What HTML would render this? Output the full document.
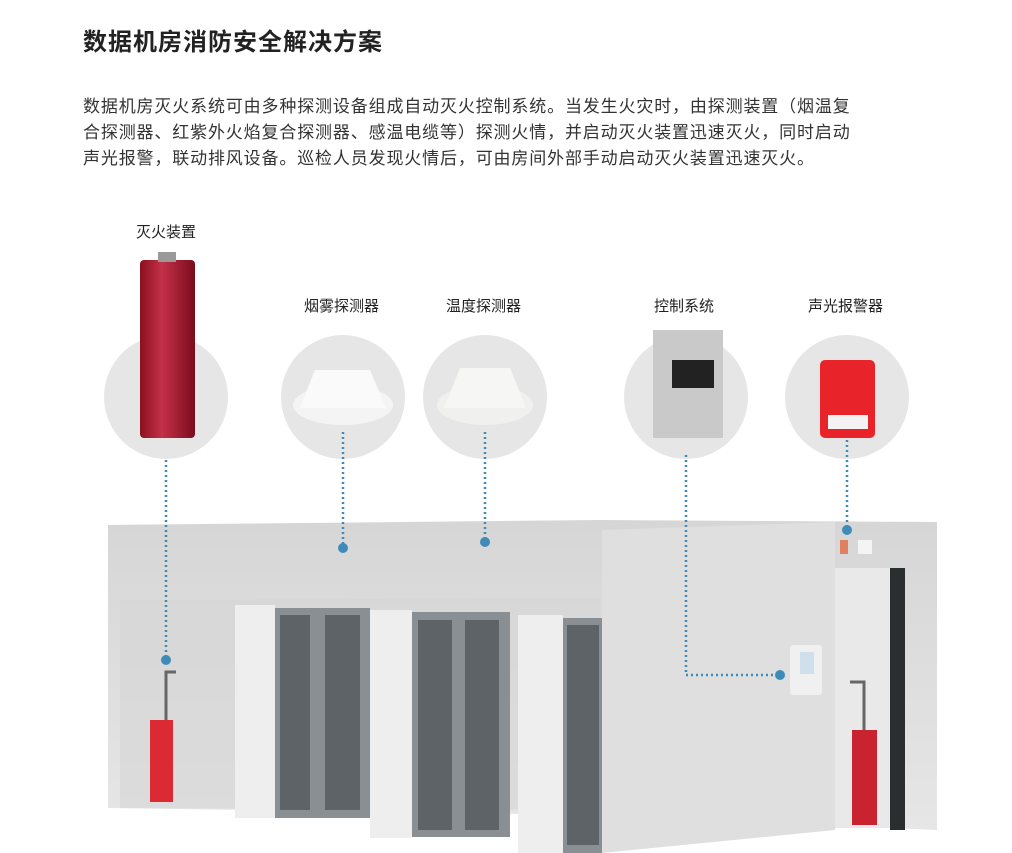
<!DOCTYPE html>
<html><head><meta charset="utf-8"><style>
body{margin:0;width:1012px;height:853px;background:#fff;overflow:hidden;position:relative;font-family:"Liberation Sans","Noto Sans CJK SC",sans-serif;color:#333}
.t{position:absolute;left:83px;top:22px;font-size:24px;letter-spacing:1px;font-weight:bold;color:#222}
.p{position:absolute;left:83px;top:94px;font-size:17px;letter-spacing:0.85px;line-height:26px;width:800px;color:#333;white-space:nowrap}
.l{position:absolute;font-size:15px;color:#222}
</style></head><body>
<div class="t">数据机房消防安全解决方案</div>
<div class="p">数据机房灭火系统可由多种探测设备组成自动灭火控制系统。当发生火灾时，由探测装置（烟温复<br>合探测器、红紫外火焰复合探测器、感温电缆等）探测火情，并启动灭火装置迅速灭火，同时启动<br>声光报警，联动排风设备。巡检人员发现火情后，可由房间外部手动启动灭火装置迅速灭火。</div>
<div class="l" style="left:136px;top:221px">灭火装置</div>
<div class="l" style="left:304px;top:295px">烟雾探测器</div>
<div class="l" style="left:446px;top:295px">温度探测器</div>
<div class="l" style="left:654px;top:295px">控制系统</div>
<div class="l" style="left:808px;top:295px">声光报警器</div>
<svg width="1012" height="853" style="position:absolute;left:0;top:0">
<defs>
<linearGradient id="w" x1="0" y1="0" x2="0" y2="1"><stop offset="0" stop-color="#d6d6d6"/><stop offset="1" stop-color="#e6e6e6"/></linearGradient>
<linearGradient id="r" x1="0" x2="1"><stop offset="0" stop-color="#8a1020"/><stop offset=".4" stop-color="#c43048"/><stop offset="1" stop-color="#7a0c1c"/></linearGradient>
</defs>
<g fill="#e6e6e6">
<circle cx="166" cy="397" r="62"/><circle cx="343" cy="397" r="62"/><circle cx="485" cy="397" r="62"/><circle cx="686" cy="397" r="62"/><circle cx="847" cy="397" r="62"/>
</g>
<rect x="140" y="260" width="55" height="178" rx="4" fill="url(#r)"/>
<rect x="158" y="252" width="18" height="10" fill="#999"/>
<ellipse cx="343" cy="405" rx="50" ry="20" fill="#f4f4f4"/><path d="M300 408 L315 370 L370 370 L386 408 Z" fill="#fafafa"/>
<ellipse cx="485" cy="405" rx="48" ry="20" fill="#f0f0ee"/><path d="M444 408 L460 368 L510 368 L526 408 Z" fill="#f6f6f4"/>
<rect x="653" y="330" width="70" height="108" fill="#c9c9c9"/><rect x="672" y="360" width="42" height="28" fill="#222"/>
<rect x="820" y="360" width="55" height="78" rx="5" fill="#e8232a"/><rect x="828" y="415" width="40" height="14" fill="#f3f3f3"/>
<path d="M108 525 L600 520 L937 522 L937 830 L600 815 L108 808 Z" fill="url(#w)"/>
<path d="M120 600 L600 598 L600 810 L120 808 Z" fill="#d6d6d6" opacity=".6"/>
<g>
<rect x="235" y="605" width="40" height="213" fill="#eeeeee"/><rect x="275" y="608" width="95" height="210" fill="#8a8f94"/>
<rect x="280" y="615" width="30" height="195" fill="#5e6368"/><rect x="325" y="615" width="35" height="195" fill="#5e6368"/>
<rect x="370" y="610" width="42" height="228" fill="#eeeeee"/><rect x="412" y="612" width="98" height="225" fill="#8a8f94"/>
<rect x="418" y="620" width="34" height="210" fill="#5e6368"/><rect x="465" y="620" width="34" height="210" fill="#5e6368"/>
<rect x="518" y="615" width="45" height="238" fill="#eeeeee"/><rect x="563" y="618" width="40" height="235" fill="#8a8f94"/>
<rect x="567" y="625" width="32" height="220" fill="#5e6368"/>
</g>
<path d="M602 530 L835 522 L835 830 L602 853 Z" fill="#dfdfdf"/>
<rect x="835" y="568" width="55" height="260" fill="#e9e9e9"/><rect x="890" y="568" width="15" height="262" fill="#2a2e2e"/>
<rect x="852" y="730" width="25" height="95" fill="#c8232f"/><rect x="150" y="720" width="23" height="82" fill="#dc2a35"/>
<path d="M166 720 V672 H176" stroke="#666" stroke-width="3" fill="none"/><path d="M864 730 V682 H850" stroke="#666" stroke-width="3" fill="none"/>
<rect x="790" y="645" width="32" height="50" rx="3" fill="#f0f0f0"/><rect x="800" y="652" width="14" height="22" fill="#cfe0ec"/>
<rect x="840" y="540" width="8" height="14" fill="#e08060"/><rect x="858" y="540" width="14" height="14" fill="#f4f4f4"/>
<g stroke="#3f8bb8" stroke-width="2.5" stroke-dasharray="2 3" fill="none">
<path d="M166 460 V660"/><path d="M343 432 V546"/><path d="M485 432 V540"/><path d="M686 455 V675 H778"/><path d="M847 440 V528"/>
</g>
<g fill="#3f8bb8"><circle cx="166" cy="660" r="5"/><circle cx="343" cy="548" r="5"/><circle cx="485" cy="542" r="5"/><circle cx="780" cy="675" r="5"/><circle cx="847" cy="530" r="5"/></g>
</svg>
</body></html>
